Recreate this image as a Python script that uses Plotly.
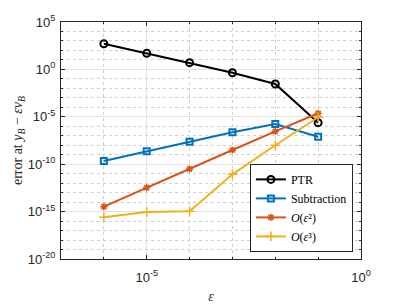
import plotly.graph_objects as go

eps = [1e-6, 1e-5, 1e-4, 1e-3, 1e-2, 1e-1]
log_ptr = [2.71, 1.70, 0.71, -0.35, -1.54, -5.62]
log_sub = [-9.66, -8.64, -7.62, -6.64, -5.76, -7.10]
log_o2 = [-14.48, -12.47, -10.50, -8.50, -6.53, -4.63]
log_o3 = [-15.60, -15.04, -14.97, -11.07, -8.00, -5.05]

x_ticks = [-5, 0]
y_ticks = [5, 0, -5, -10, -15, -20]

ptr = [10 ** v for v in log_ptr]
sub = [10 ** v for v in log_sub]
o2 = [10 ** v for v in log_o2]
o3 = [10 ** v for v in log_o3]

serif = "Liberation Serif, DejaVu Serif, serif"
sans = "Liberation Sans, Arial, sans-serif"

fig = go.Figure()
fig.add_trace(go.Scatter(x=eps, y=ptr, name="PTR", mode="lines+markers",
                         line=dict(color="black", width=2),
                         marker=dict(symbol="circle-open", size=7, color="black", line=dict(width=2))))
fig.add_trace(go.Scatter(x=eps, y=sub, name="Subtraction", mode="lines+markers",
                         line=dict(color="#0072BD", width=2),
                         marker=dict(symbol="square-open", size=6, color="#0072BD", line=dict(width=2))))
fig.add_trace(go.Scatter(x=eps, y=o2, name="<i>O</i>(<i>ε</i>²)", mode="lines+markers",
                         line=dict(color="#D95319", width=2),
                         marker=dict(symbol="asterisk-open", size=6, color="#D95319", line=dict(width=1.5, color="#D95319"))))
fig.add_trace(go.Scatter(x=eps, y=o3, name="<i>O</i>(<i>ε</i>³)", mode="lines+markers",
                         line=dict(color="#EDB120", width=2),
                         marker=dict(symbol="cross-thin-open", size=7, color="#EDB120", line=dict(width=1.5, color="#EDB120"))))


def axis(ticks, lo, hi):
    return dict(
        type="log", range=[lo, hi], showline=True, linecolor="#262626", linewidth=1, mirror="allticks",
        ticks="inside", ticklen=4, tickcolor="#262626", automargin=False,
        tickvals=[10 ** k for k in ticks],
        ticktext=["10<sup>%d</sup>" % k if k >= 0 else "10<sup>-%d</sup>" % (-k) for k in ticks],
        showgrid=True, gridcolor="#e3e3e3", gridwidth=1,
        zeroline=False, tickfont=dict(family=sans, size=13, color="#262626"),
        minor=dict(tickvals=[10 ** k for k in range(lo, hi + 1)], showgrid=True, griddash="dot",
                   gridcolor="#cfcfcf", ticks="inside", ticklen=2, tickcolor="#262626"),
    )


xa = axis(x_ticks, -7, 0)
xa["ticklabelstandoff"] = 6
xa["title"] = dict(text="<i>ε</i>", font=dict(family=serif, size=14, color="#262626"), standoff=10)
ya = axis(y_ticks, -20, 5)
ya["ticklabelstandoff"] = 2
ya["title"] = dict(text="error at <i>y</i><sub><i>B</i></sub> − <i>εν</i><sub><i>B</i></sub>",
                   font=dict(family=serif, size=14, color="#262626"), standoff=1)

fig.update_layout(
    width=399, height=304,
    margin=dict(l=61, r=38, t=22, b=45),
    plot_bgcolor="white", paper_bgcolor="white",
    showlegend=True,
    legend=dict(x=0.973, y=0.03, xanchor="right", yanchor="bottom",
                bgcolor="white", bordercolor="#262626", borderwidth=1,
                font=dict(family=serif, size=12, color="black"),
                itemwidth=30, tracegroupgap=0),
    xaxis=xa,
    yaxis=ya,
)

fig.write_html("out.html", config={"displayModeBar": False},
               post_script="document.body.style.margin='0px';")
